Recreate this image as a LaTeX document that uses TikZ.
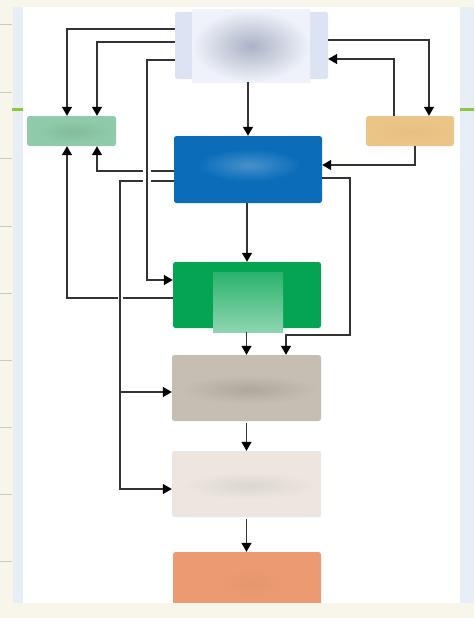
\documentclass[tikz,border=0pt]{standalone}
\usetikzlibrary{arrows.meta,calc}
\definecolor{cream}{HTML}{F8F6EA}
\definecolor{stripblue}{HTML}{E8EEF6}
\definecolor{tickgray}{HTML}{CDC9BC}
\definecolor{tickgreen}{HTML}{8CC63E}
\definecolor{cTop}{HTML}{DCE3F3}
\definecolor{cTopMid}{HTML}{ABB2C6}
\definecolor{cLeft}{HTML}{8FCBAA}
\definecolor{cRight}{HTML}{EBC487}
\definecolor{cBlue}{HTML}{0B6DBA}
\definecolor{cGreen}{HTML}{05A452}
\definecolor{cTaupe}{HTML}{C7BEB3}
\definecolor{cLight}{HTML}{EDE6E0}
\definecolor{cOrange}{HTML}{EB9A72}
\definecolor{lineC}{HTML}{333333}
\tikzset{
  box/.style={draw=none, rounded corners=2.5pt, inner sep=0pt},
  conn/.style={draw=lineC, line width=1.25pt, -{Triangle[length=9pt,width=10pt,color=black]}},
  jump/.style={preaction={draw=white, line width=#1, -}},
  tick/.style={draw=tickgray, line width=0.8pt}
}
\begin{document}
\begin{tikzpicture}[x=1pt,y=-1pt]
% background / frame
\useasboundingbox (0,0) rectangle (474,618);
\fill[cream] (0,0) rectangle (474,618);
\fill[stripblue] (13,7) rectangle (474,603);
\fill[white] (23,7) rectangle (460,603);
\foreach \yy in {24,92,158,226,293,360,427,494,561}
  \draw[tick] (0,\yy) -- (12,\yy);
\fill[tickgreen] (12,107.5) rectangle (23,110.5);
\fill[tickgreen] (460,107.5) rectangle (474,110.5);

% boxes
\node[box, fill=cTop, minimum width=153pt, minimum height=67pt] (top) at (251.5,45.5) {};
\node[box, fill=cLeft, minimum width=89pt, minimum height=30pt] (left) at (71.5,131) {};
\node[box, fill=cRight, minimum width=88pt, minimum height=30pt] (right) at (410,131) {};
\node[box, fill=cBlue, minimum width=148pt, minimum height=67pt] (blue) at (248,169.5) {};
\node[box, fill=cGreen, minimum width=148pt, minimum height=66pt] (green) at (247,295) {};
\node[box, fill=cTaupe, minimum width=149pt, minimum height=66pt] (taupe) at (246.5,388) {};
\node[box, fill=cLight, minimum width=149pt, minimum height=66pt] (light) at (246.5,484) {};
\node[box, fill=cOrange, minimum width=148pt, minimum height=66pt] (orange) at (247,585) {};

% blurred contents
\shade[inner color=cTopMid, outer color=white!55!cTop] (192,10) rectangle (310,82);
\shade[inner color=cLeft!92!black, outer color=cLeft] (36,120) rectangle (112,143);
\shade[inner color=cRight!92!brown, outer color=cRight] (370,120) rectangle (450,143);
\shade[inner color=cBlue!75!white, outer color=cBlue] (198,149) rectangle (300,181);
\shade[top color=cGreen!85!white, bottom color=cGreen!45!white] (213,272) rectangle (283,332);
\shade[inner color=cTaupe!88!black, outer color=cTaupe] (180,375) rectangle (318,404);
\shade[inner color=cLight!93!black, outer color=cLight] (182,472) rectangle (318,499);
\shade[inner color=cOrange!88!brown, outer color=cOrange] (218,569) rectangle (282,597);

% connectors
\draw[conn] (top.west |- 0,29) -| (67,0 |- left.north);
\draw[conn] (top.west |- 0,42) -| (97,0 |- left.north);
\draw[conn] (top.east |- 0,40) -| (429,0 |- right.north);
\draw[conn] (394,0 |- right.north) |- (top.east |- 0,59);
\draw[conn] (415,0 |- right.south) |- (blue.east |- 0,165);
\draw[conn] (blue.north |- 0,82) -- (blue.north);
\draw[conn] (green.north |- blue.south) -- (green.north);
\draw[conn] (blue.east |- 0,178) -| (350,335) -| (286,0 |- taupe.north);
\draw[conn] (blue.west |- 0,171) -| (97,0 |- left.south);
\draw[conn] (green.west |- 0,298) -| (67,0 |- left.south);
\draw[conn, jump=5pt] (blue.west |- 0,181) -| (120,489) -- (light.west |- 0,489);
\draw[conn] (120,392) -- (taupe.west |- 0,392);
\draw[conn, jump=8pt] (top.west |- 0,60) -| (147,280) -- (green.west |- 0,280);
\draw[conn] (taupe.north |- 0,332) -- (taupe.north);
\draw[conn] ([yshift=-2pt]taupe.south) -- (light.north);
\draw[conn] ([yshift=-2pt]light.south) -- (light.south |- orange.north);

% bottom band
\fill[cream] (0,603) rectangle (474,618);
\end{tikzpicture}
\end{document}
